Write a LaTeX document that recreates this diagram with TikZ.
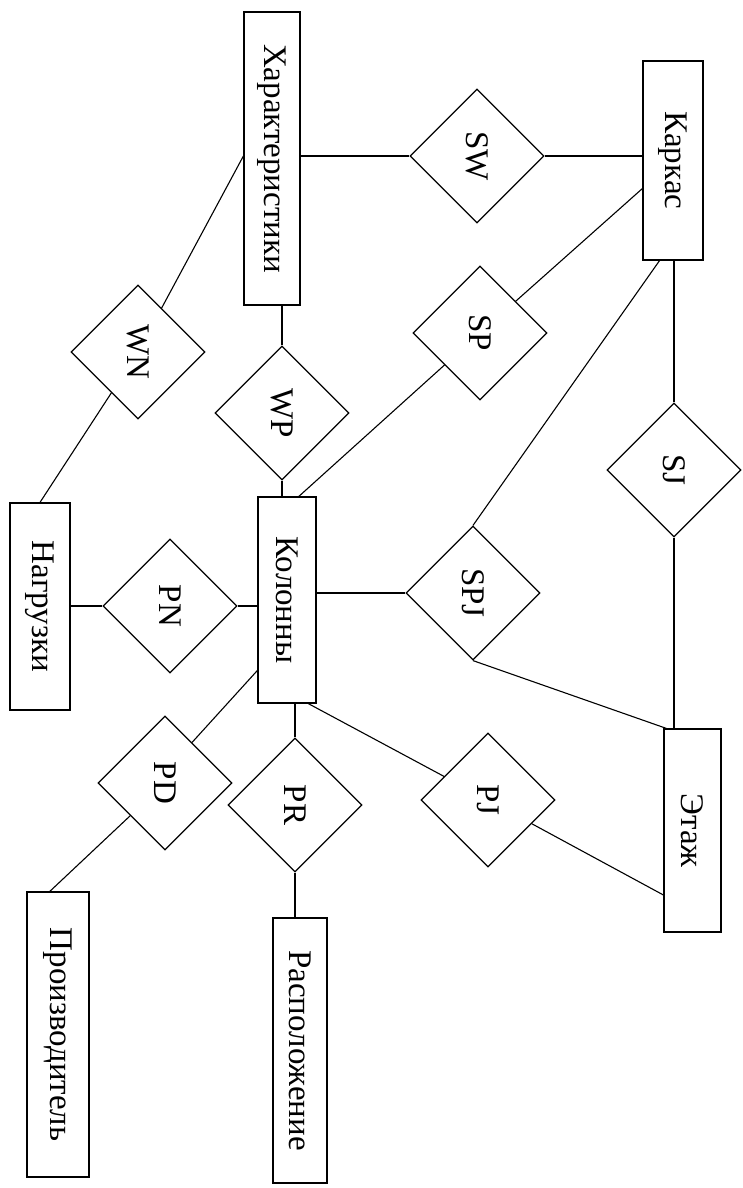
\documentclass[tikz,border=0pt]{standalone}
\usepackage{fontspec}
\setmainfont{Liberation Serif}
\usetikzlibrary{shapes.geometric,calc}
\begin{document}
\begin{tikzpicture}[x=1pt,y=-1pt,
  ent/.style={draw, line width=1.2pt, inner sep=0pt, font=\fontsize{33}{33}\selectfont},
  rel/.style={draw, diamond, aspect=1, inner sep=0pt, minimum width=134pt, minimum height=134pt, line width=1.2pt, font=\fontsize{33}{33}\selectfont},
  conn/.style={line width=1.1pt}]
\useasboundingbox[fill=white] (0,0) rectangle (742,1188);
% entities
\node[ent, minimum width=56pt, minimum height=293pt] (hx) at (272,158.5) {\rotatebox{-90}{Характеристики}};
\node[ent, minimum width=60pt, minimum height=199pt] (kk) at (673,160.5) {\rotatebox{-90}{Каркас}};
\node[ent, minimum width=58pt, minimum height=206pt] (kl) at (287,600) {\rotatebox{-90}{Колонны}};
\node[ent, minimum width=60pt, minimum height=207pt] (ng) at (40,606.5) {\rotatebox{-90}{Нагрузки}};
\node[ent, minimum width=57pt, minimum height=203pt] (et) at (692.5,830.5) {\rotatebox{-90}{Этаж}};
\node[ent, minimum width=62pt, minimum height=285pt] (pz) at (58,1034.5) {\rotatebox{-90}{Производитель}};
\node[ent, minimum width=54pt, minimum height=265pt] (rs) at (300,1050.5) {\rotatebox{-90}{Расположение}};
% relationships
\node[rel] (sw) at (477,156) {\rotatebox{-90}{SW}};
\node[rel] (sp) at (480,333) {\rotatebox{-90}{SP}};
\node[rel] (wn) at (138,352) {\rotatebox{-90}{WN}};
\node[rel] (wp) at (282,413) {\rotatebox{-90}{WP}};
\node[rel] (sj) at (674,470) {\rotatebox{-90}{SJ}};
\node[rel] (pn) at (170,606) {\rotatebox{-90}{PN}};
\node[rel] (spj) at (473,593) {\rotatebox{-90}{SPJ}};
\node[rel] (pd) at (165,783) {\rotatebox{-90}{PD}};
\node[rel] (pr) at (295,805) {\rotatebox{-90}{PR}};
\node[rel] (pj) at (488,800) {\rotatebox{-90}{PJ}};
% connectors
\draw[conn] (hx.east |- sw.west) -- (sw.west);
\draw[conn] (sw.east) -- (sw.east -| kk.west);
\draw[conn] (wn) -- (hx.west |- sw.west);
\draw[conn] (wn) -- (ng.north);
\draw[conn] (wp.north) -- (wp.north |- hx.south);
\draw[conn] (wp.south) -- (wp.south |- kl.north);
\draw[conn] (sp) -- ($(kk.north west)!0.64!(kk.south west)$);
\draw[conn] (sp) -- ($(kl.north west)!0.7!(kl.north east)$);
\draw[conn] ($(kk.south west)!0.28!(kk.south east)$) -- (spj.north);
\draw[conn] (sj.north) -- (sj.north |- kk.south);
\draw[conn] (sj.south) -- (sj.south |- et.north);
\draw[conn] (kl.east |- spj.west) -- (spj.west);
\draw[conn] (spj.south) -- ($(et.north west)+(3,0)$);
\draw[conn] (ng.east |- pn.west) -- (pn.west);
\draw[conn] (pn.east) -- (pn.east -| kl.west);
\draw[conn] ($(kl.north west)!0.84!(kl.south west)$) -- ($(pd.north)!0.4!(pd.east)$);
\draw[conn] (pr.north) -- (pr.north |- kl.south);
\draw[conn] ($(kl.south west)!0.86!(kl.south east)$) -- (pj);
\draw[conn] (pj) -- (et.west |- 0,895);
\draw[conn] (pd) -- ($(pz.north west)!0.37!(pz.north east)$);
\draw[conn] (pr.south) -- (pr.south |- rs.north);
\end{tikzpicture}
\end{document}
